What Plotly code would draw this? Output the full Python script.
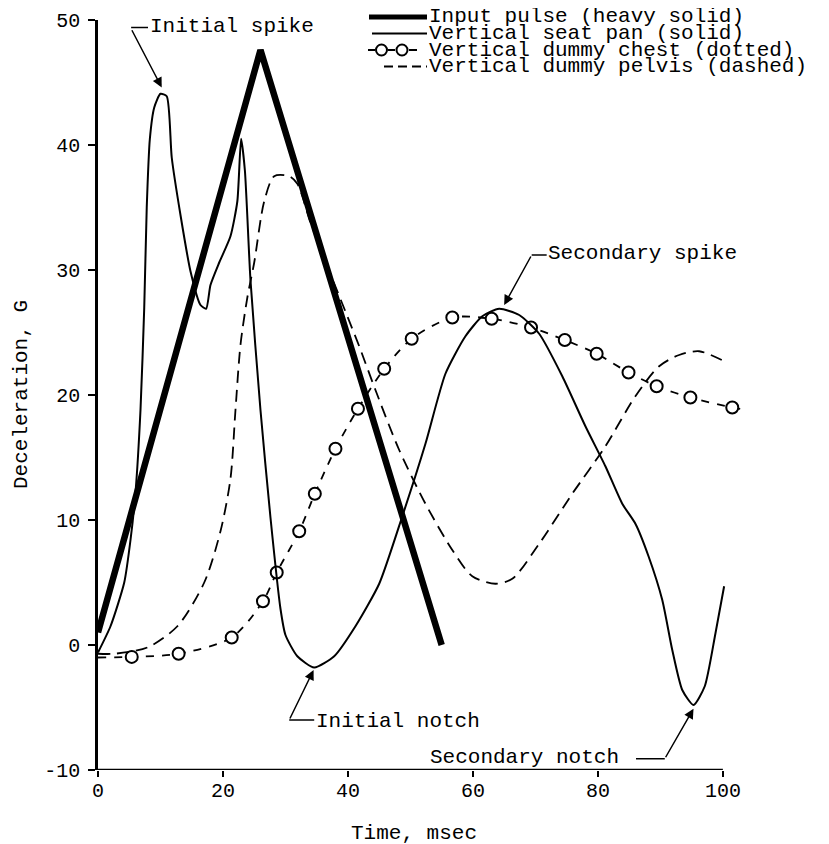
import plotly.graph_objects as go

# ---------------- data ----------------
input_t = [0.0, 26.0, 55.0]
input_g = [1.0, 47.6, 0.0]

seat_t = [0, 2.0, 4.2, 5.2, 6.0, 6.8, 7.4, 7.8, 8.3, 9.0, 10.0, 11.0, 11.8, 13.2, 14.8,
          16.4, 17.3, 18.0, 19.4, 21.2, 22.3, 22.9, 23.5, 24.4, 26.0, 27.6, 29.2, 30.0,
          31.9, 34.6, 37.8, 41.2, 45.0, 48.7, 52.4, 55.6, 58.8, 61.5, 64.2, 67.4, 70.6,
          74.3, 78.0, 81.2, 83.9, 86.0, 88.1, 90.3, 91.9, 93.5, 95.3, 97.1, 98.8, 100.2]
seat_g = [-0.6, 1.5, 5.0, 8.4, 12.2, 18.8, 27.0, 35.0, 40.5, 43.0, 44.1, 43.9, 39.0, 34.4,
          29.9, 27.2, 26.9, 28.8, 30.6, 32.7, 35.5, 40.5, 38.0, 29.2, 18.8, 10.2, 2.9, 0.8,
          -0.9, -1.8, -0.9, 1.5, 4.9, 10.3, 16.1, 21.7, 24.7, 26.3, 26.9, 26.4, 24.9, 21.5,
          17.5, 14.3, 11.3, 9.7, 7.1, 3.6, -0.4, -3.6, -4.8, -3.3, 0.9, 4.7]

chest_t = [0.0, 5.4, 12.9, 21.4, 26.4, 28.6, 32.2, 34.7, 38.0, 41.6, 45.8, 50.2, 56.7,
           63.0, 69.3, 74.7, 79.8, 84.9, 89.4, 94.8, 101.5, 103.8]
chest_g = [-1.0, -0.95, -0.7, 0.6, 3.5, 5.8, 9.1, 12.1, 15.7, 18.9, 22.1, 24.5, 26.2,
           26.1, 25.4, 24.4, 23.3, 21.8, 20.7, 19.8, 19.0, 18.8]
chest_marker = [0, 1, 1, 1, 1, 1, 1, 1, 1, 1, 1, 1, 1, 1, 1, 1, 1, 1, 1, 1, 1, 0]

pelvis_t = [0, 2.6, 7.9, 12.7, 17.0, 19.6, 21.2, 22.0, 22.8, 23.9, 25.0, 26.6, 28.2, 30.6,
            31.9, 34.0, 36.7, 39.9, 41.8, 44.4, 48.2, 52.4, 56.7, 59.9, 63.6, 66.3, 70.6,
            75.9, 81.2, 86.0, 89.8, 93.0, 96.2, 100.2]
pelvis_g = [-0.7, -0.7, -0.2, 1.5, 5.0, 9.1, 13.3, 18.8, 24.0, 27.8, 30.6, 35.5, 37.5, 37.5,
            36.9, 33.8, 30.3, 26.3, 23.9, 20.4, 15.6, 11.3, 7.6, 5.5, 4.9, 5.3, 8.1,
            12.1, 15.9, 19.9, 22.3, 23.2, 23.5, 22.7]

x_ticks = [0, 20, 40, 60, 80, 100]
y_ticks = [-10, 0, 10, 20, 30, 40, 50]

legend_labels = ["Input pulse (heavy solid)", "Vertical seat pan (solid)",
                 "Vertical dummy chest (dotted)", "Vertical dummy pelvis (dashed)"]

# ---------------- layout constants ----------------
FONT = "Liberation Mono, Courier New, monospace"
BODY = 8                      # default page body margin
L_SCR, T_SCR = 98, 20         # plot-area origin in the screenshot
W, H = 653, 750
FIG_W, FIG_H = 829 - BODY, 844 - BODY
L, T = L_SCR - BODY, T_SCR - BODY
XMAX = 104.5


def pxx(px):
    return (px - L_SCR) / W


def pxy(py):
    return (T_SCR + H - py) / H


fig = go.Figure()

# chest: dashed connecting line + open circles
fig.add_trace(go.Scatter(x=chest_t, y=chest_g, mode="lines",
                         line=dict(color="black", width=1.8, dash="8px,8px", shape="spline",
                                   smoothing=0.8),
                         hoverinfo="skip", showlegend=False))
fig.add_trace(go.Scatter(x=chest_t, y=chest_g, mode="markers",
                         marker=dict(symbol="circle", size=[12 * m for m in chest_marker],
                                     color="white", opacity=1,
                                     line=dict(color="black", width=2)),
                         hoverinfo="skip", showlegend=False))
# pelvis dashed
fig.add_trace(go.Scatter(x=pelvis_t, y=pelvis_g, mode="lines",
                         line=dict(color="black", width=1.8, dash="12px,7px", shape="spline",
                                   smoothing=0.8),
                         hoverinfo="skip", showlegend=False))
# seat pan solid thin
fig.add_trace(go.Scatter(x=seat_t, y=seat_g, mode="lines",
                         line=dict(color="black", width=2, shape="spline", smoothing=0.6),
                         hoverinfo="skip", showlegend=False))
# input pulse heavy
fig.add_trace(go.Scatter(x=input_t, y=input_g, mode="lines",
                         line=dict(color="black", width=6.5),
                         hoverinfo="skip", showlegend=False))

shapes = []
# x axis line from 0 to 100
shapes.append(dict(type="line", xref="x", yref="y", x0=0, x1=100, y0=-10, y1=-10,
                   line=dict(color="black", width=2.5)))


def hline(x0, x1, y):
    shapes.append(dict(type="line", xref="x", yref="y", x0=x0, x1=x1, y0=y, y1=y,
                       line=dict(color="black", width=1.5)))


hline(5.3, 8.0, 49.4)       # Initial spike
hline(69.4, 71.8, 31.2)     # Secondary spike
hline(30.6, 34.6, -6.0)     # Initial notch
hline(86.1, 90.7, -9.1)     # Secondary notch

# ---- custom legend (top right) ----
leg_y = [17, 33.5, 50, 66.5]
shapes.append(dict(type="line", xref="paper", yref="paper", x0=pxx(369), x1=pxx(427),
                   y0=pxy(leg_y[0]), y1=pxy(leg_y[0]), line=dict(color="black", width=5)))
shapes.append(dict(type="line", xref="paper", yref="paper", x0=pxx(372), x1=pxx(427),
                   y0=pxy(leg_y[1]), y1=pxy(leg_y[1]), line=dict(color="black", width=2)))
for a, b in [(368, 375), (388, 395), (409, 417)]:
    shapes.append(dict(type="line", xref="paper", yref="paper", x0=pxx(a), x1=pxx(b),
                       y0=pxy(leg_y[2]), y1=pxy(leg_y[2]), line=dict(color="black", width=2)))
for c in [381.5, 402]:
    shapes.append(dict(type="circle", xref="paper", yref="paper",
                       x0=pxx(c - 5.5), x1=pxx(c + 5.5),
                       y0=pxy(leg_y[2] + 5.5), y1=pxy(leg_y[2] - 5.5),
                       line=dict(color="black", width=2), fillcolor="white"))
shapes.append(dict(type="line", xref="paper", yref="paper", x0=pxx(384), x1=pxx(427),
                   y0=pxy(leg_y[3]), y1=pxy(leg_y[3]),
                   line=dict(color="black", width=2, dash="9px,5px")))

annotations = []
for lbl, yy in zip(legend_labels, leg_y):
    annotations.append(dict(xref="paper", yref="paper", x=pxx(428), y=pxy(yy), text=lbl,
                            showarrow=False, xanchor="left", yanchor="middle",
                            borderpad=0,
                            font=dict(family=FONT, size=21, color="black")))


def label(text, x, y):
    annotations.append(dict(xref="x", yref="y", x=x, y=y, text=text, showarrow=False,
                            xanchor="left", yanchor="middle", borderpad=0,
                            font=dict(family=FONT, size=21, color="black")))


def arrow(x_tail, y_tail, x_head, y_head):
    annotations.append(dict(xref="x", yref="y", axref="x", ayref="y", x=x_head, y=y_head,
                            ax=x_tail, ay=y_tail, text="", showarrow=True, arrowhead=2,
                            arrowsize=1.3, arrowwidth=1.5, arrowcolor="black",
                            standoff=0, startstandoff=0))


label("Initial spike", 8.1, 49.5)
arrow(5.3, 49.3, 10.2, 44.6)
label("Secondary spike", 71.9, 31.3)
arrow(69.4, 31.2, 65.0, 27.2)
label("Initial notch", 34.8, -6.1)
arrow(30.6, -6.0, 34.5, -2.0)
label("Secondary notch", 53.0, -9.0)
arrow(90.7, -9.1, 95.3, -5.1)

# axis titles
annotations.append(dict(xref="paper", yref="paper", x=pxx(21), y=pxy(395),
                        text="Deceleration, G", textangle=-90, showarrow=False,
                        xanchor="center", yanchor="middle",
                        font=dict(family=FONT, size=21, color="black")))
annotations.append(dict(xref="paper", yref="paper", x=pxx(414), y=pxy(833),
                        text="Time, msec", showarrow=False,
                        xanchor="center", yanchor="middle",
                        font=dict(family=FONT, size=21, color="black")))

fig.update_layout(
    width=FIG_W, height=FIG_H,
    margin=dict(l=L, r=FIG_W - L - W, t=T, b=FIG_H - T - H, pad=0),
    paper_bgcolor="white", plot_bgcolor="white",
    showlegend=False,
    shapes=shapes, annotations=annotations,
    xaxis=dict(range=[0, XMAX], tickvals=x_ticks, ticktext=[str(v) for v in x_ticks],
               showgrid=False, zeroline=False, showline=False,
               ticks="outside", ticklen=6, tickwidth=2, tickcolor="black",
               ticklabelstandoff=-4,
               tickfont=dict(family=FONT, size=20, color="black"), automargin=False),
    yaxis=dict(range=[-10, 50], tickvals=y_ticks, ticktext=[str(v) for v in y_ticks],
               showgrid=False, zeroline=False, showline=True, linecolor="black",
               linewidth=2.5, ticks="outside", ticklen=7, tickwidth=2, tickcolor="black",
               ticklabelstandoff=4,
               tickfont=dict(family=FONT, size=20, color="black"), automargin=False),
)

fig.write_html("out.html")
